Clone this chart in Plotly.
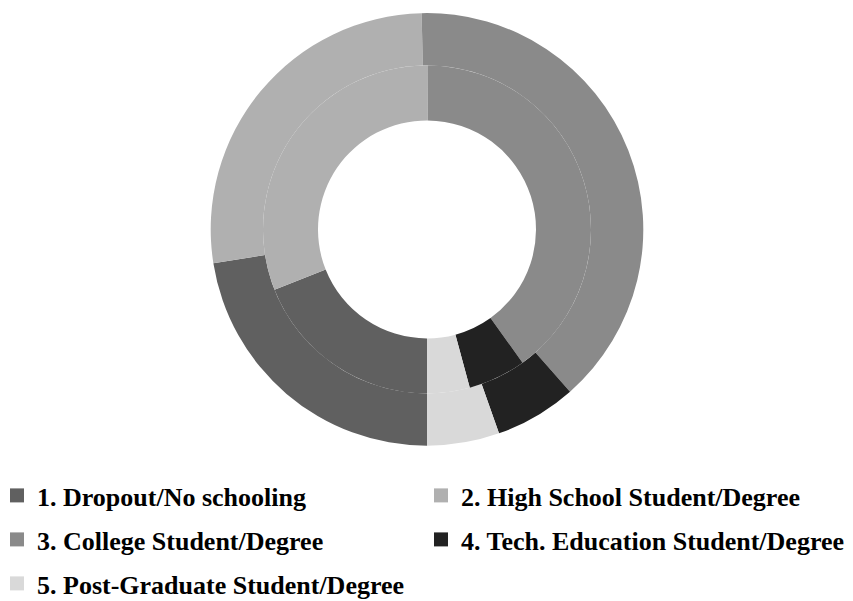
import plotly.graph_objects as go

# Education level categories and their shares (percent) for the two rings
categories = [
    "1. Dropout/No schooling",
    "2. High School Student/Degree",
    "3. College Student/Degree",
    "4. Tech. Education Student/Degree",
    "5. Post-Graduate Student/Degree",
]
outer_values = [22.5, 27.1, 38.9, 6.1, 5.4]
inner_values = [19.0, 31.1, 40.0, 5.7, 4.2]
colors = ["#606060", "#b0b0b0", "#8a8a8a", "#222222", "#d9d9d9"]

W, H = 853, 601
cx, cy = 427.0, 229.4          # ring centre in pixels (from top-left)
r_outer, r_mid, r_hole = 216.3, 164.0, 109.0


def domain(radius):
    ymid = H - cy
    return dict(
        x=[(cx - radius) / W, (cx + radius) / W],
        y=[(ymid - radius) / H, (ymid + radius) / H],
    )


fig = go.Figure()
fig.add_trace(go.Pie(
    labels=categories,
    values=outer_values,
    marker=dict(colors=colors, line=dict(width=0)),
    hole=r_mid / r_outer,
    domain=domain(r_outer),
    sort=False,
    direction="clockwise",
    rotation=180,
    textinfo="none",
    hoverinfo="label+percent",
    showlegend=False,
))
fig.add_trace(go.Pie(
    labels=categories,
    values=inner_values,
    marker=dict(colors=colors, line=dict(width=0)),
    hole=r_hole / r_mid,
    domain=domain(r_mid),
    sort=False,
    direction="clockwise",
    rotation=180,
    textinfo="none",
    hoverinfo="label+percent",
    showlegend=False,
))

# Legend laid out as a two-column grid: one single-entry legend per cell
legend_font = dict(family="Liberation Serif", size=26, color="black", weight="bold")
col_left = [-3, 421]          # pixel x of each column
row_tops = [472, 516, 560]    # pixel y (from top) of each row

legend_layout = {}
for i, (name, color) in enumerate(zip(categories, colors)):
    key = "legend" if i == 0 else f"legend{i + 1}"
    fig.add_trace(go.Scatter(
        x=[None], y=[None],
        mode="markers",
        name=name,
        marker=dict(symbol="square", size=14, color=color),
        legend=key,
        hoverinfo="skip",
    ))
    legend_layout[key] = dict(
        orientation="h",
        x=col_left[i % 2] / W,
        xanchor="left",
        y=1 - row_tops[i // 2] / H,
        yanchor="top",
        font=legend_font,
        bgcolor="rgba(0,0,0,0)",
    )

fig.update_layout(
    width=W,
    height=H,
    margin=dict(l=0, r=0, t=0, b=0, autoexpand=False),
    paper_bgcolor="white",
    plot_bgcolor="white",
    xaxis=dict(visible=False),
    yaxis=dict(visible=False),
    **legend_layout,
)

fig.write_html("out.html")
